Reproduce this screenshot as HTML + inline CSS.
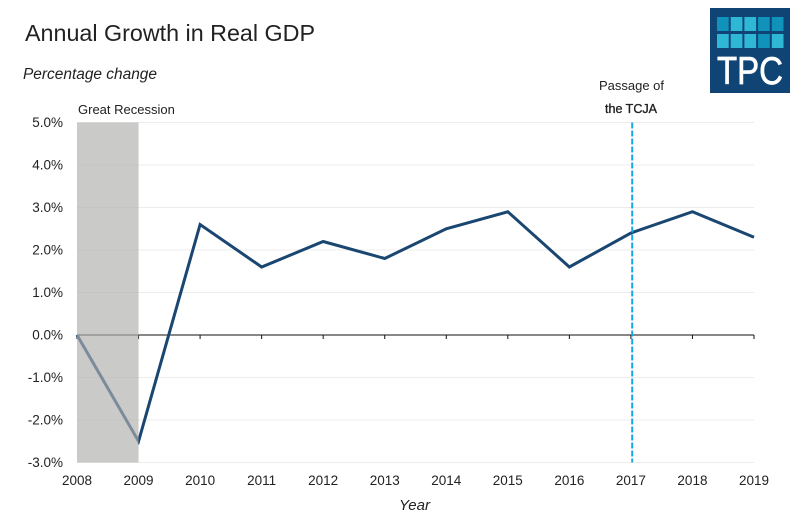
<!DOCTYPE html>
<html>
<head>
<meta charset="utf-8">
<style>
html,body{margin:0;padding:0;background:#fff;}
#wrap{position:relative;width:806px;height:521px;overflow:hidden;background:#fff;}
svg{position:absolute;left:0;top:0;}
text{font-family:"Liberation Sans",sans-serif;fill:#222;}
</style>
</head>
<body>
<div id="wrap">
<svg id="chart" width="806" height="521" viewBox="0 0 806 521">
  <text x="25" y="41" font-size="23.3" textLength="290" lengthAdjust="spacingAndGlyphs">Annual Growth in Real GDP</text>
  <text x="23" y="79" font-size="15.4" font-style="italic" textLength="134" lengthAdjust="spacingAndGlyphs">Percentage change</text>
  <text x="399" y="510" font-size="15" font-style="italic" textLength="31" lengthAdjust="spacingAndGlyphs">Year</text>
  <g id="grid"></g>
  <g id="ylabels"></g>
  <g id="xlabels"></g>
  <g id="xaxis"></g>
  <path id="line" fill="none" stroke="#1a4672" stroke-width="3" stroke-linejoin="miter"></path>
  <rect id="recession" fill="#afafad" fill-opacity="0.664"></rect>
  <text x="78" y="114" font-size="13">Great Recession</text>
  <line id="tcja" stroke="#14a9e6" stroke-width="2" stroke-dasharray="6 2"></line>
  <text x="599" y="90" font-size="13" textLength="65" lengthAdjust="spacingAndGlyphs">Passage of</text>
  <text x="605" y="113" font-size="13" stroke="#222" stroke-width="0.35" textLength="52" lengthAdjust="spacingAndGlyphs">the TCJA</text>
  <g>
    <rect x="710" y="8" width="80" height="85" fill="#0f4475"></rect>
    <g id="logocells"></g>
    <text x="717" y="84" font-size="39" font-weight="400" stroke="#fff" stroke-width="0.7" style="fill:#fff" textLength="66" lengthAdjust="spacingAndGlyphs">TPC</text>
  </g>
</svg>
</div>
<script>
const years = [2008,2009,2010,2011,2012,2013,2014,2015,2016,2017,2018,2019];
const growth = [0,-2.5,2.6,1.6,2.2,1.8,2.5,2.9,1.6,2.4,2.9,2.3];
const yTicks = [5,4,3,2,1,0,-1,-2,-3];
const recessionYears = [2008,2009];
const tcjaYear = 2017;

const NS = 'http://www.w3.org/2000/svg';
const L = 77, R = 754, T = 122.5, B = 462.5;
function xPos(y){ return L + (y - years[0]) * (R - L) / (years[years.length - 1] - years[0]); }
function yPos(v){ return T + (5 - v) * (B - T) / 8; }
function mk(tag, attrs, parent){
  const e = document.createElementNS(NS, tag);
  for (const k in attrs) e.setAttribute(k, attrs[k]);
  parent.appendChild(e);
  return e;
}
const grid = document.getElementById('grid');
const ylabels = document.getElementById('ylabels');
const xlabels = document.getElementById('xlabels');
const xaxis = document.getElementById('xaxis');

yTicks.forEach(function(v){
  const g = mk('line', {x1:L, x2:R, y1:yPos(v), y2:yPos(v), stroke:'#ececec', 'stroke-width':1}, grid);
  
  
  const t = mk('text', {x:63, y:yPos(v)+4.5, 'font-size':13.5, 'text-anchor':'end'}, ylabels);
  
  
  t.textContent = v.toFixed(1) + '%';
});

const ax = mk('line', {x1:L, x2:R, y1:yPos(0), y2:yPos(0), stroke:'#111', 'stroke-width':1}, xaxis);



years.forEach(function(y){
  const tk = mk('line', {x1:xPos(y), x2:xPos(y), y1:yPos(0), y2:yPos(0)+4, stroke:'#111', 'stroke-width':1}, xaxis);
  
  
  const t = mk('text', {x:xPos(y), y:485, 'font-size':13.5, 'text-anchor':'middle'}, xlabels);
  
  
  t.textContent = y;
});

document.getElementById('line').setAttribute('d',
  growth.map(function(v,i){ return (i ? 'L' : 'M') + xPos(years[i]) + ' ' + yPos(v); }).join(' '));

const band = document.getElementById('recession');
band.setAttribute('x', xPos(recessionYears[0]));
band.setAttribute('width', xPos(recessionYears[1]) - xPos(recessionYears[0]));
band.setAttribute('y', T);
band.setAttribute('height', B - T);

const tc = document.getElementById('tcja');
tc.setAttribute('x1', xPos(tcjaYear) + 1.3);
tc.setAttribute('x2', xPos(tcjaYear) + 1.3);
tc.setAttribute('y1', T);
tc.setAttribute('y2', B);

const cells = document.getElementById('logocells');
const cellColors = ['#0f93bb','#2fb8d6','#2fb8d6','#0f93bb','#0f93bb','#2fb8d6','#2fb8d6','#2fb8d6','#0f93bb','#2fb8d6'];
cellColors.forEach(function(c,i){
  const col = i % 5, row = Math.floor(i / 5);
  const r = mk('rect', {x:717 + col * 13.7, y:17 + row * 17, width:11.7, height:14, fill:c}, cells);
  
  
});
</script>
</body>
</html>
